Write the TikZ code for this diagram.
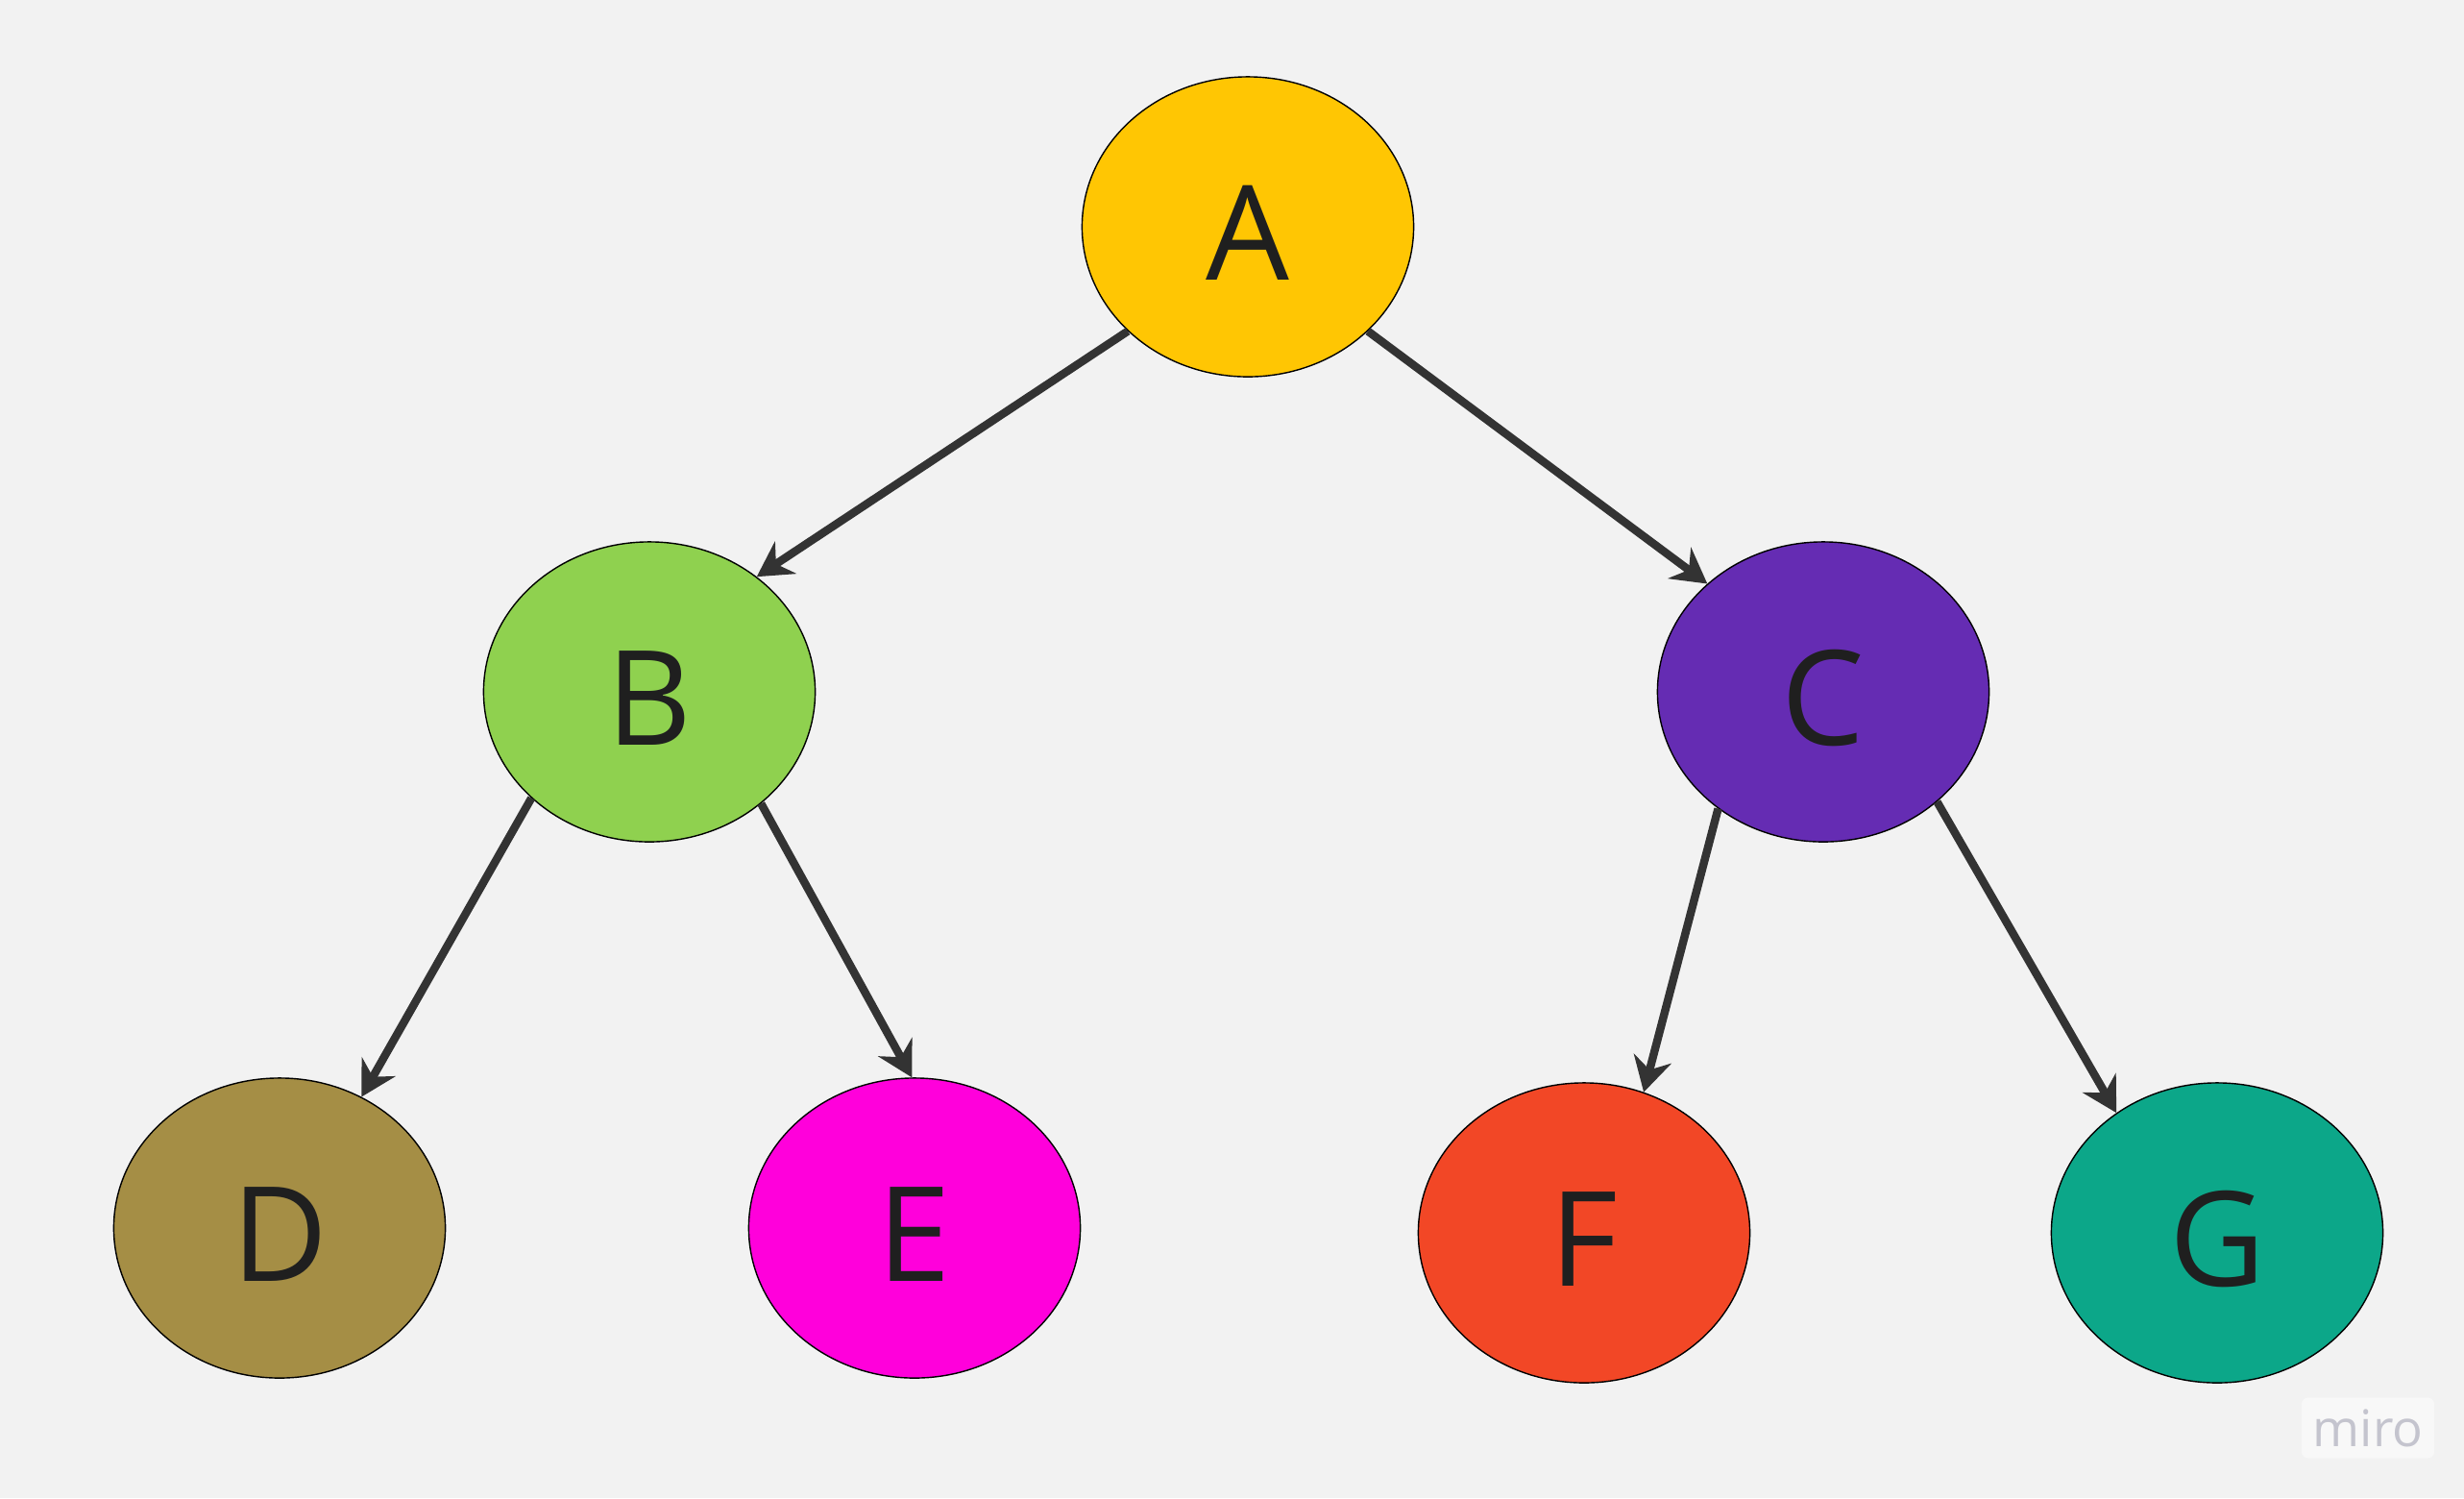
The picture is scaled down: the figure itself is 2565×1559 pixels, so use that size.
\documentclass[tikz,border=0pt]{standalone}
\usepackage{fontspec}
\setmainfont{Open Sans}
\usepackage{xcolor}
\definecolor{cBg}{HTML}{F2F2F2}
\definecolor{cEdge}{HTML}{333333}
\definecolor{cA}{HTML}{FFC603}
\definecolor{cB}{HTML}{8FD14F}
\definecolor{cC}{HTML}{652CB3}
\definecolor{cD}{HTML}{A58E45}
\definecolor{cE}{HTML}{FF00DB}
\definecolor{cF}{HTML}{F24726}
\definecolor{cG}{HTML}{0CA789}
\definecolor{cLogo}{HTML}{C4C4CE}
\usepackage{tikz}
\usetikzlibrary{positioning,arrows.meta,shapes.geometric}
\tikzset{
  node-tree/.style={ellipse,draw=black,line width=0.4pt,inner sep=0pt,
    minimum width=3.45cm,minimum height=3.12cm,align=center,
    text height=1.1cm,text depth=0pt,
    text=black!88,font=\fontsize{39pt}{40pt}\selectfont},
  arrow/.style={-{Stealth[length=3.6mm,width=4mm,inset=1.2mm]},
    line width=2.4pt,draw=cEdge},
}

\begin{document}
\begin{tikzpicture}[x=0.01cm,y=-0.01cm]
  \fill[cBg] (0,0) rectangle (2565,1559);
  \node[node-tree,fill=cA] (a) at (1299,236) {A};
  \node[node-tree,fill=cB] (b) at (676,720) {B};
  \node[node-tree,fill=cC] (c) at (1898,720) {C};
  \node[node-tree,fill=cD] (d) at (291,1278) {D};
  \node[node-tree,fill=cE] (e) at (952,1278) {E};
  \node[node-tree,fill=cF] (f) at (1649,1283) {F};
  \node[node-tree,fill=cG] (g) at (2308,1283) {G};
  \draw[arrow] (a.221) -- (b.47);
  \draw[arrow] (a.319) -- (c.137);
  \draw[arrow] (b.222) -- (d.58);
  \draw[arrow] (b.315) -- (e.91);
  \draw[arrow] (c.228) -- (f.67);
  \draw[arrow] (c.316) -- (g.130);
  % watermark
  \node[fill=white!50!cBg,rounded corners=2pt,minimum width=1.2cm,
    minimum height=0.63cm,text=cLogo,font=\fontsize{15pt}{16pt}\selectfont]
    (logo) at (2465,1486) {miro};
\end{tikzpicture}
\end{document}
